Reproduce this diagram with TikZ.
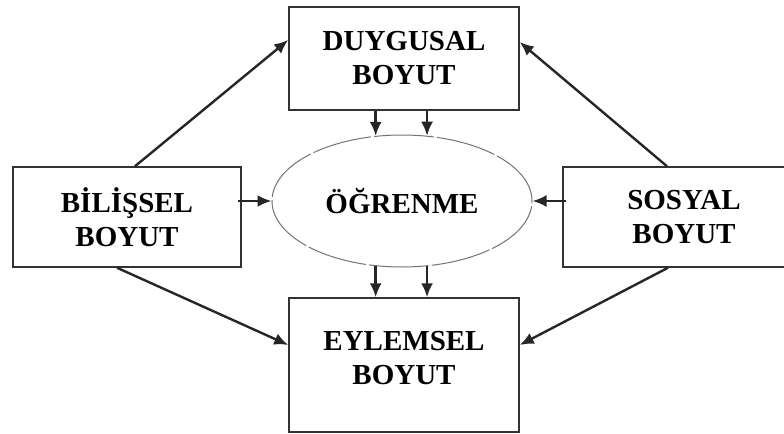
\documentclass[tikz,border=0pt]{standalone}
\usepackage{fontspec}
\setmainfont{Liberation Serif}
\usetikzlibrary{shapes.geometric,arrows.meta}

\begin{document}
\begin{tikzpicture}[x=0.5pt,y=-0.5pt,
  dim/.style={draw=black!80, line width=0.75pt, minimum height=50pt, minimum width=114pt, inner sep=0pt},
  txt/.style={font=\fontsize{14.5}{17}\selectfont\bfseries, align=center, text=black},
  arr/.style={draw=black!85, line width=1.2pt, -{Latex[length=7pt,width=6pt]}}]
  \useasboundingbox (0,0) rectangle (784,434);
  \node[dim, txt, minimum width=115pt, minimum height=51.5pt] (duygusal) at (404,58.5) {DUYGUSAL\\BOYUT};
  \node[dim, txt] (bilissel) at (127,217) {BİLİŞSEL\\BOYUT};
  \node[dim, minimum width=113.5pt] (sosyal) at (676.5,217) {};
  \node[txt] (sosyaltxt) at (684,217) {SOSYAL\\BOYUT};
  \node[dim, minimum width=115pt, minimum height=67pt] (eylemsel) at (404,365) {};
  \node[txt] (eylemseltxt) at (404,358) {EYLEMSEL\\BOYUT};
  \node[ellipse, draw=black!55, line width=0.5pt, dash pattern=on 30pt off 1.5pt,
        minimum width=130pt, minimum height=66pt, inner sep=0pt, txt] (ogrenme) at (402,201) {ÖĞRENME};
  \draw[arr] (ogrenme.112 |- duygusal.south) -- (ogrenme.112);
  \draw[arr] (ogrenme.69 |- duygusal.south) -- (ogrenme.69);
  \draw[arr] (ogrenme.248) -- (ogrenme.248 |- eylemsel.north);
  \draw[arr] (ogrenme.291) -- (ogrenme.291 |- eylemsel.north);
  \draw[arr] ([xshift=-2pt]bilissel.east |- ogrenme.west) -- (ogrenme.west);
  \draw[arr] ([xshift=2pt]sosyal.west |- ogrenme.east) -- (ogrenme.east);
  \draw[arr] ([xshift=4pt]bilissel.north) -- ([yshift=9.25pt]duygusal.west);
  \draw[arr] ([xshift=-4.75pt]sosyal.north) -- ([yshift=8.25pt]duygusal.east);
  \draw[arr] ([xshift=-5pt]bilissel.south) -- ([yshift=10pt]eylemsel.west);
  \draw[arr] ([xshift=-4.25pt]sosyal.south) -- ([yshift=10pt]eylemsel.east);
\end{tikzpicture}
\end{document}
